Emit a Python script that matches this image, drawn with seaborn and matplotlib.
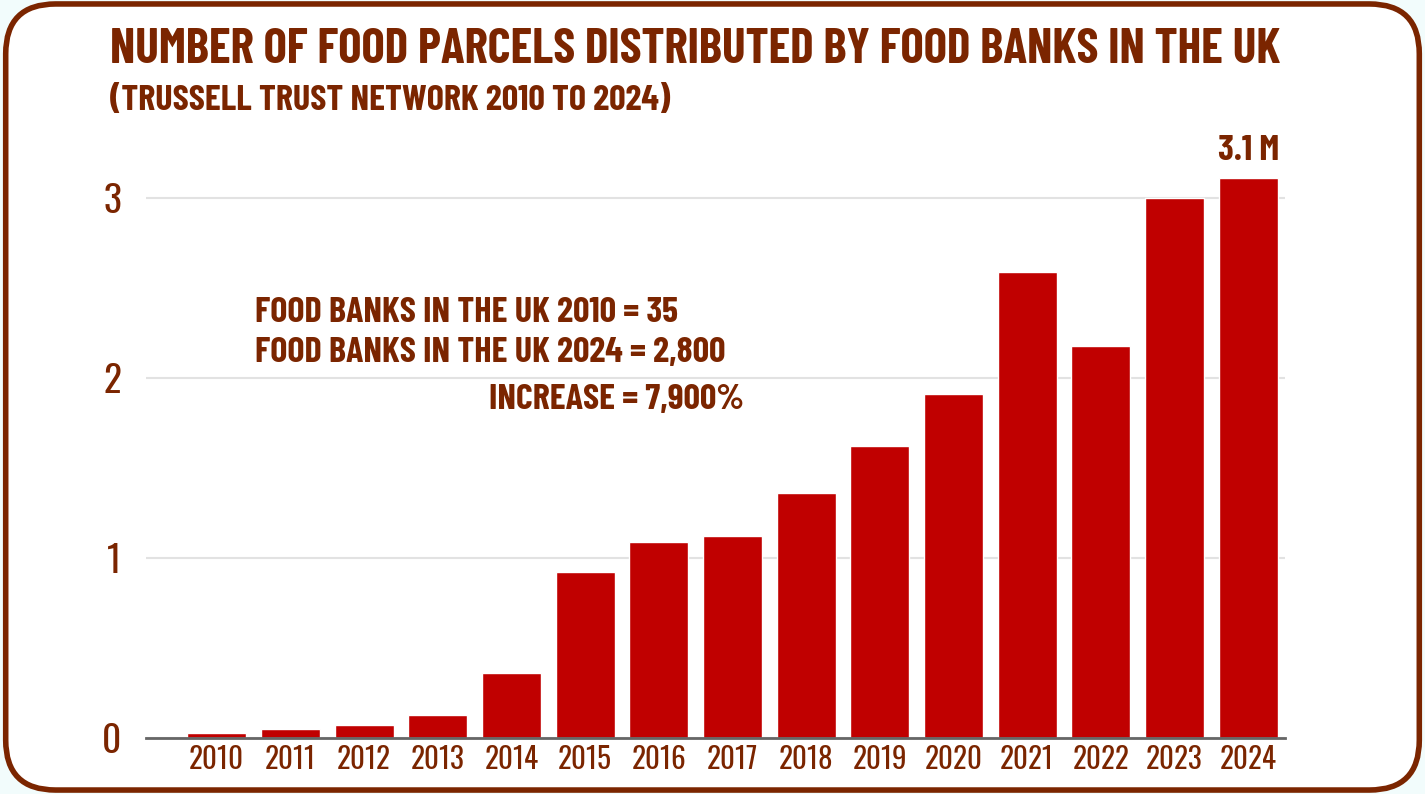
import matplotlib
matplotlib.use("Agg")
import matplotlib.pyplot as plt
import seaborn as sns
import pandas as pd
from matplotlib.patches import FancyBboxPatch

years = ["2010", "2011", "2012", "2013", "2014", "2015", "2016", "2017",
         "2018", "2019", "2020", "2021", "2022", "2023", "2024"]
parcels_m = [0.03, 0.05, 0.07, 0.13, 0.36, 0.92, 1.09, 1.12,
             1.36, 1.62, 1.91, 2.59, 2.18, 3.00, 3.11]
y_ticks = [0, 1, 2, 3]
title = "NUMBER OF FOOD PARCELS DISTRIBUTED BY FOOD BANKS IN THE UK"
subtitle = "(TRUSSELL TRUST NETWORK 2010 TO 2024)"
notes = ["FOOD BANKS IN THE UK 2010 = 35", "FOOD BANKS IN THE UK 2024 = 2,800"]
note3 = "INCREASE = 7,900%"
last_label = "3.1 M"

BROWN = "#7B2500"
RED = "#C00000"
HEAD = ["Barlow Condensed", "DejaVu Sans"]
TICK = ["Oswald", "DejaVu Sans"]

sns.set_theme(style="white")
plt.rcParams["font.family"] = HEAD
plt.rcParams["font.weight"] = "bold"

df = pd.DataFrame({"year": years, "parcels": parcels_m})

fig = plt.figure(figsize=(14.25, 7.94), dpi=100, facecolor="#F2FCFC")
fig.patches.append(FancyBboxPatch((0.004, 0.005), 0.992, 0.99,
                                  boxstyle="round,pad=0,rounding_size=0.035",
                                  transform=fig.transFigure, facecolor="white",
                                  edgecolor=BROWN, linewidth=4, zorder=-1,
                                  mutation_aspect=1425/794))

ax = fig.add_axes([146/1425, 1 - 738/794, (1285 - 146)/1425, (738 - 130)/794])
ax.set_facecolor("none")
sns.barplot(data=df, x="year", y="parcels", color=RED, saturation=1,
            width=0.8, ax=ax, zorder=3)
ax.set_xlim(-0.96, 14.5)
ax.set_ylim(0, (738 - 130) / 180)
ax.set_yticks(y_ticks)
ax.set_yticklabels([str(t) for t in y_ticks])
ax.grid(axis="y", color="#E2E2E2", linewidth=1.5, zorder=0)
for s in ["top", "right", "left"]:
    ax.spines[s].set_visible(False)
ax.spines["bottom"].set_color("#666666")
ax.spines["bottom"].set_linewidth(2)
ax.spines["bottom"].set_zorder(4)
ax.set_xlabel("")
ax.set_ylabel("")
ax.tick_params(axis="x", length=0, pad=5, labelsize=21, labelcolor=BROWN)
ax.tick_params(axis="y", length=0, pad=18, labelsize=27, labelcolor=BROWN)
for lab in ax.get_xticklabels() + ax.get_yticklabels():
    lab.set_family(TICK)
    lab.set_fontweight("normal")

ax.text(14, parcels_m[-1] + 0.06, last_label, ha="center", va="bottom",
        fontsize=26, color=BROWN, fontweight="bold")

ax.text(0.52, 2.36, notes[0], ha="left", va="center", fontsize=26, color=BROWN, fontweight="bold")
ax.text(0.52, 2.14, notes[1], ha="left", va="center", fontsize=26, color=BROWN, fontweight="bold")
ax.text(3.69, 1.88, note3, ha="left", va="center", fontsize=26, color=BROWN, fontweight="bold")

fig.text(110/1425, 1 - 50/794, title, ha="left", va="center", fontsize=35.5,
         color=BROWN, fontweight="bold")
fig.text(110/1425, 1 - 101/794, subtitle, ha="left", va="center", fontsize=26,
         color=BROWN, fontweight="bold")

fig.savefig("out.png", dpi=100, facecolor=fig.get_facecolor())
